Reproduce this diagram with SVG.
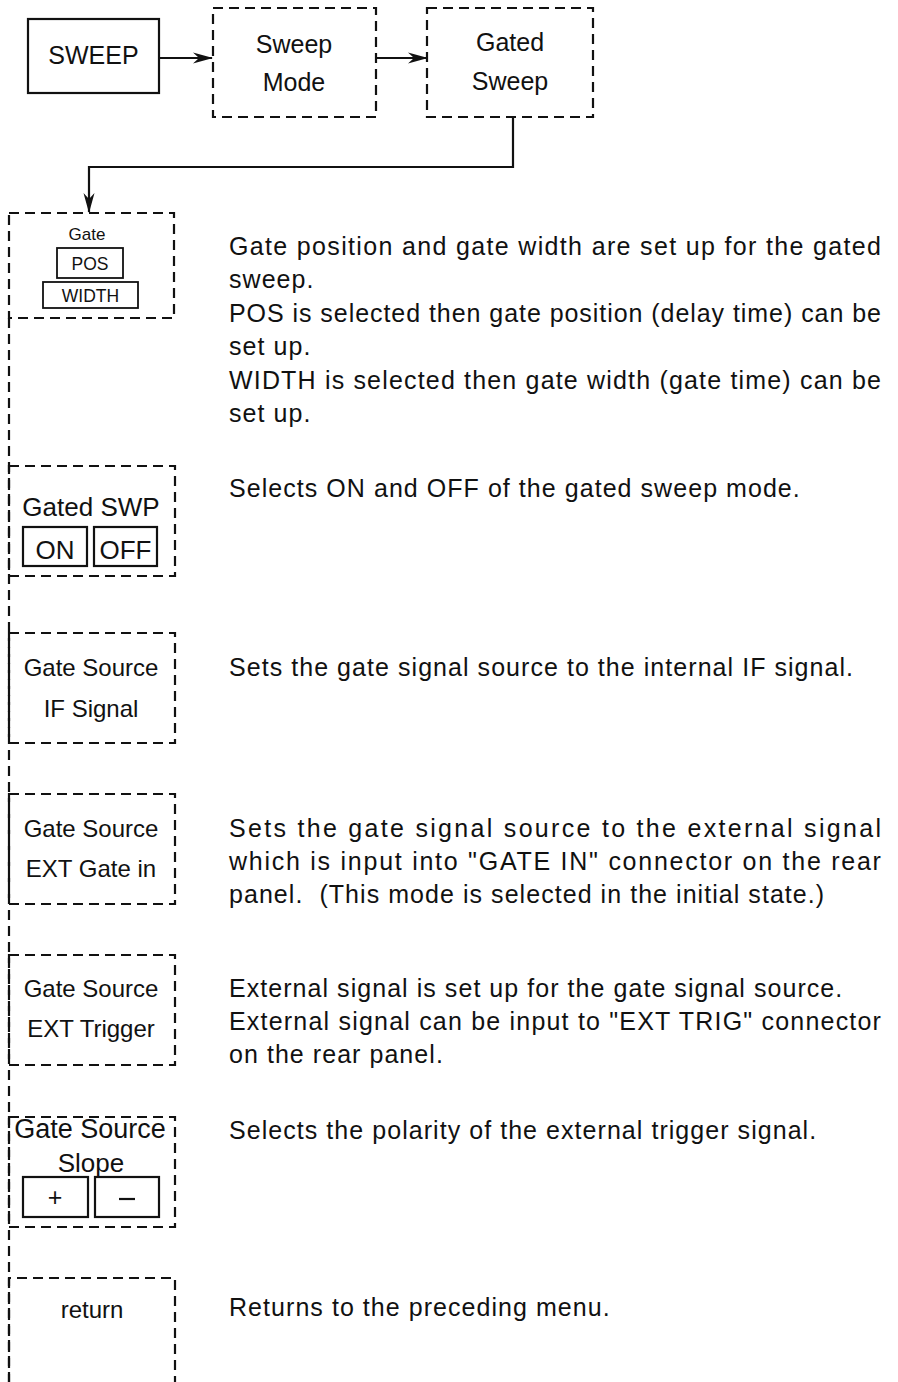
<svg xmlns="http://www.w3.org/2000/svg" width="898" height="1382" viewBox="0 0 898 1382">
<defs>
<style>
text{font-family:"Liberation Sans",Arial,sans-serif;fill:#111}
.box{fill:none;stroke:#111;stroke-width:2.2}
.dash{fill:none;stroke:#111;stroke-width:2.2;stroke-dasharray:10 6}
.lbl{font-size:24px;text-anchor:middle}
.big{font-size:25px;text-anchor:middle}
.sm{font-size:17.5px;text-anchor:middle}
.desc{font-size:25px;letter-spacing:1.05px}
.wire{fill:none;stroke:#111;stroke-width:2.2}
</style>
<marker id="arr" viewBox="0 0 20 12" refX="19" refY="6" markerWidth="20" markerHeight="12" markerUnits="userSpaceOnUse" orient="auto">
<path d="M0,0.5 L20,6 L0,11.5 L6,6 z" fill="#111"/>
</marker>
</defs>
<rect width="898" height="1382" fill="#fff"/>

<g id="connectors">
<line class="wire" x1="159" y1="58" x2="212" y2="58" marker-end="url(#arr)"/>
<line class="wire" x1="376" y1="58" x2="427" y2="58" marker-end="url(#arr)"/>
<path class="wire" d="M513,117 V167 H89 V212" marker-end="url(#arr)"/>
<line class="dash" x1="9" y1="318" x2="9" y2="1382"/>
</g>

<g id="sweep">
<rect class="box" x="28" y="19" width="131" height="74"/>
<text class="big" x="93.5" y="64">SWEEP</text>
</g>

<g id="sweep-mode">
<rect class="dash" x="213" y="8" width="163" height="109"/>
<text class="big" x="294" y="53">Sweep</text>
<text class="big" x="294" y="91">Mode</text>
</g>

<g id="gated-sweep">
<rect class="dash" x="427" y="8" width="166" height="109"/>
<text class="big" x="510" y="51">Gated</text>
<text class="big" x="510" y="90">Sweep</text>
</g>

<g id="gate">
<rect class="dash" x="9" y="213" width="165" height="105"/>
<text x="87" y="240" style="font-size:17px;text-anchor:middle">Gate</text>
<rect class="box" x="57" y="248" width="66" height="30" style="stroke-width:1.8"/>
<text class="sm" x="90" y="270">POS</text>
<rect class="box" x="43" y="282" width="95" height="26" style="stroke-width:1.8"/>
<text class="sm" x="90.5" y="302">WIDTH</text>
</g>
<g id="gate-desc">
<text class="desc" x="229" y="255" textLength="653" lengthAdjust="spacing">Gate position and gate width are set up for the gated</text>
<text class="desc" x="229" y="288">sweep.</text>
<text class="desc" x="229" y="322" textLength="653" lengthAdjust="spacing">POS is selected then gate position (delay time) can be</text>
<text class="desc" x="229" y="355">set up.</text>
<text class="desc" x="229" y="389" textLength="653" lengthAdjust="spacing">WIDTH is selected then gate width (gate time) can be</text>
<text class="desc" x="229" y="422">set up.</text>
</g>

<g id="gated-swp">
<rect class="dash" x="9" y="466" width="166" height="110"/>
<text class="lbl" x="91" y="516" style="font-size:26px">Gated SWP</text>
<rect class="box" x="23" y="527" width="64" height="39"/>
<text class="big" x="55" y="559" style="font-size:26px">ON</text>
<rect class="box" x="94" y="527" width="63" height="39"/>
<text class="big" x="125.5" y="559" style="font-size:26px">OFF</text>
</g>
<text class="desc" x="229" y="497">Selects ON and OFF of the gated sweep mode.</text>

<g id="if-signal">
<rect class="dash" x="9" y="633" width="166" height="110"/>
<text class="lbl" x="91" y="676">Gate Source</text>
<text class="lbl" x="91" y="717">IF Signal</text>
</g>
<text class="desc" x="229" y="676">Sets the gate signal source to the internal IF signal.</text>

<g id="ext-gate">
<rect class="dash" x="9" y="794" width="166" height="110"/>
<text class="lbl" x="91" y="837">Gate Source</text>
<text class="lbl" x="91" y="877">EXT Gate in</text>
</g>
<g id="ext-gate-desc">
<text class="desc" x="229" y="837" textLength="653" lengthAdjust="spacing">Sets the gate signal source to the external signal</text>
<text class="desc" x="229" y="870" textLength="653" lengthAdjust="spacing">which is input into "GATE IN" connector on the rear</text>
<text class="desc" x="229" y="903" style="white-space:pre">panel.  (This mode is selected in the initial state.)</text>
</g>

<g id="ext-trigger">
<rect class="dash" x="9" y="955" width="166" height="110"/>
<text class="lbl" x="91" y="997">Gate Source</text>
<text class="lbl" x="91" y="1037">EXT Trigger</text>
</g>
<g id="ext-trigger-desc">
<text class="desc" x="229" y="997">External signal is set up for the gate signal source.</text>
<text class="desc" x="229" y="1030" textLength="653" lengthAdjust="spacing">External signal can be input to "EXT TRIG" connector</text>
<text class="desc" x="229" y="1063">on the rear panel.</text>
</g>

<g id="slope">
<rect class="dash" x="9" y="1117" width="166" height="110"/>
<text class="big" x="90" y="1138" style="font-size:27px">Gate Source</text>
<text class="big" x="91" y="1172" style="font-size:26px">Slope</text>
<rect class="box" x="23" y="1177" width="65" height="40"/>
<text class="big" x="55" y="1206">+</text>
<rect class="box" x="95" y="1177" width="64" height="40"/>
<line x1="119" y1="1199" x2="135" y2="1199" stroke="#111" stroke-width="2.2"/>
</g>
<text class="desc" x="229" y="1139">Selects the polarity of the external trigger signal.</text>

<g id="return">
<path class="dash" d="M9,1382 V1278 H175 V1382"/>
<text class="lbl" x="92" y="1318">return</text>
</g>
<text class="desc" x="229" y="1316">Returns to the preceding menu.</text>
</svg>
